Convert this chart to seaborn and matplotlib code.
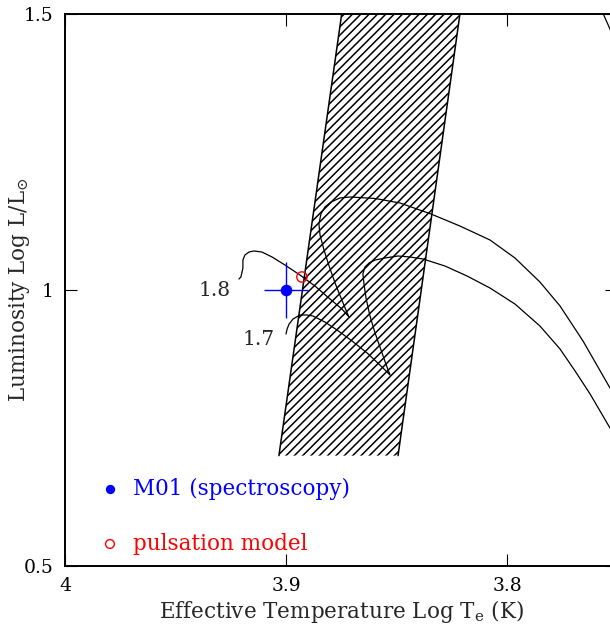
import matplotlib
matplotlib.use("Agg")
import matplotlib.pyplot as plt
import seaborn as sns
import pandas as pd

# ---------------- data ----------------
# instability strip edges (blue / red edge), Log Te vs Log L
strip_lum = [0.70, 1.50]
strip_teff_blue = [3.9032, 3.8748]
strip_teff_red = [3.8493, 3.8213]

# evolutionary track 1.8 Msun
trk18_teff = [3.9213, 3.9204, 3.9195, 3.9195, 3.9186, 3.9167, 3.9145, 3.9109, 3.9063, 3.9005,
              3.8937, 3.8869, 3.8801, 3.8747, 3.8715,
              3.8729, 3.8751, 3.8778, 3.8805, 3.8828, 3.8846, 3.8851, 3.8842, 3.8824, 3.8796,
              3.8756, 3.8710, 3.8597, 3.8484, 3.8344, 3.8213, 3.8077, 3.7964, 3.7851, 3.7760,
              3.7656, 3.7534, 3.7502]
trk18_lum = [1.0199, 1.0236, 1.0399, 1.0543, 1.0634, 1.0688, 1.0707, 1.0688, 1.0598, 1.0453,
             1.0272, 1.0072, 0.9837, 0.9656, 0.9511,
             0.9638, 0.9855, 1.0127, 1.0435, 1.0725, 1.0996, 1.1196, 1.1377, 1.1504, 1.1594,
             1.1667, 1.1685, 1.1658, 1.1576, 1.1377, 1.1159, 1.0906, 1.0580, 1.0145, 0.9710,
             0.9076, 0.8225, 0.8007]

# evolutionary track 1.7 Msun
trk17_teff = [3.9000, 3.8995, 3.8986, 3.8968, 3.8937, 3.8905, 3.8878, 3.8824, 3.8769, 3.8701,
              3.8633, 3.8575, 3.8529,
              3.8548, 3.8570, 3.8597, 3.8620, 3.8638, 3.8647, 3.8652, 3.8643, 3.8624, 3.8597,
              3.8552, 3.8493, 3.8439, 3.8380, 3.8281, 3.8181, 3.8077, 3.7964, 3.7851, 3.7760,
              3.7692, 3.7624, 3.7534, 3.7502]
trk17_lum = [0.9203, 0.9293, 0.9384, 0.9475, 0.9547, 0.9547, 0.9529, 0.9420, 0.9275, 0.9076,
             0.8859, 0.8641, 0.8460,
             0.8659, 0.8913, 0.9221, 0.9529, 0.9855, 1.0109, 1.0290, 1.0417, 1.0489, 1.0543,
             1.0580, 1.0616, 1.0598, 1.0562, 1.0435, 1.0254, 1.0036, 0.9746, 0.9348, 0.8931,
             0.8533, 0.8116, 0.7500, 0.7283]

# part of a higher-mass track entering at the top right corner
trk_hi_teff = [3.7570, 3.7538, 3.7500]
trk_hi_lum = [1.5050, 1.4764, 1.4400]

track_labels = ["1.8", "1.7"]
track_label_teff = [3.9321, 3.9122]
track_label_lum = [1.000, 0.9112]

# observations
m01_teff, m01_lum = [3.900], [1.000]
m01_teff_err, m01_lum_err = 0.010, 0.050
puls_teff, puls_lum = [3.8928], [1.0236]

legend_labels = ["M01 (spectroscopy)", "pulsation model"]

xticks = [4.0, 3.9, 3.8]
xtick_labels = ["4", "3.9", "3.8"]
yticks = [0.5, 1.0, 1.5]
ytick_labels = ["0.5", "1", "1.5"]

# ---------------- style ----------------
sns.set_style("ticks")
plt.rcParams["font.family"] = ["DejaVu Serif"]
plt.rcParams["mathtext.fontset"] = "dejavuserif"
plt.rcParams["hatch.linewidth"] = 1.1

fig = plt.figure(figsize=(6.10, 6.27), dpi=100)
ax = fig.add_axes([65 / 610, 61 / 627, 552.5 / 610, 552 / 627])

# instability strip
poly_x = strip_teff_blue + strip_teff_red[::-1]
poly_y = strip_lum + strip_lum[::-1]
ax.fill(poly_x, poly_y, facecolor="white", edgecolor="black", linewidth=0,
        hatch="////", zorder=1)
sns.lineplot(x=strip_teff_blue, y=strip_lum, sort=False, estimator=None, color="black",
             lw=1.1, ax=ax, zorder=2)
sns.lineplot(x=strip_teff_red, y=strip_lum, sort=False, estimator=None, color="black",
             lw=1.1, ax=ax, zorder=2)

# tracks
for tx, ty in [(trk18_teff, trk18_lum), (trk17_teff, trk17_lum), (trk_hi_teff, trk_hi_lum)]:
    df = pd.DataFrame({"teff": tx, "lum": ty})
    sns.lineplot(data=df, x="teff", y="lum", sort=False, estimator=None, color="black",
                 lw=0.9, ax=ax, zorder=3, solid_joinstyle="round")

for lab, tx, ty in zip(track_labels, track_label_teff, track_label_lum):
    ax.text(tx, ty, lab, ha="center", va="center", fontsize=14.5)

# observation with error bars
ax.errorbar(m01_teff, m01_lum, xerr=m01_teff_err, yerr=m01_lum_err, fmt="none",
            ecolor="blue", elinewidth=1.0, capsize=0, zorder=4)
sns.scatterplot(x=m01_teff, y=m01_lum, color="blue", s=70, edgecolor="blue",
                linewidth=0, ax=ax, zorder=5)
sns.scatterplot(x=puls_teff, y=puls_lum, facecolor="none", edgecolor="red", s=55,
                linewidth=1.0, ax=ax, zorder=5)

# legend drawn as text
ax.scatter([0.0814], [0.1395], transform=ax.transAxes, s=45, color="blue", linewidth=0)
ax.text(0.123, 0.1395, legend_labels[0], transform=ax.transAxes, color="blue",
        fontsize=15.5, va="center", ha="left")
ax.scatter([0.0814], [0.0399], transform=ax.transAxes, s=40, facecolor="none",
           edgecolor="red", linewidth=1.0)
ax.text(0.123, 0.0399, legend_labels[1], transform=ax.transAxes, color="red",
        fontsize=15.5, va="center", ha="left")

# axes
ax.set_xlim(4.0, 3.75)
ax.set_ylim(0.5, 1.5)
ax.set_xticks(xticks)
ax.set_xticklabels(xtick_labels)
ax.set_yticks(yticks)
ax.set_yticklabels(ytick_labels)
ax.minorticks_off()
ax.tick_params(direction="in", length=8.6, width=0.8, top=True, right=True,
               labelsize=13.5, pad=8, color="black", labelcolor="black")
for sp in ax.spines.values():
    sp.set_visible(True)
    sp.set_linewidth(1.4)
    sp.set_color("black")

ax.set_xlabel(r"Effective Temperature Log T$_{\rm e}$ (K)", fontsize=15.5, labelpad=2)
ax.set_ylabel(r"Luminosity Log L/L$_{\odot}$", fontsize=15.5)
ax.yaxis.set_label_coords(-0.060, 0.5)

fig.savefig("out.png", dpi=100)
